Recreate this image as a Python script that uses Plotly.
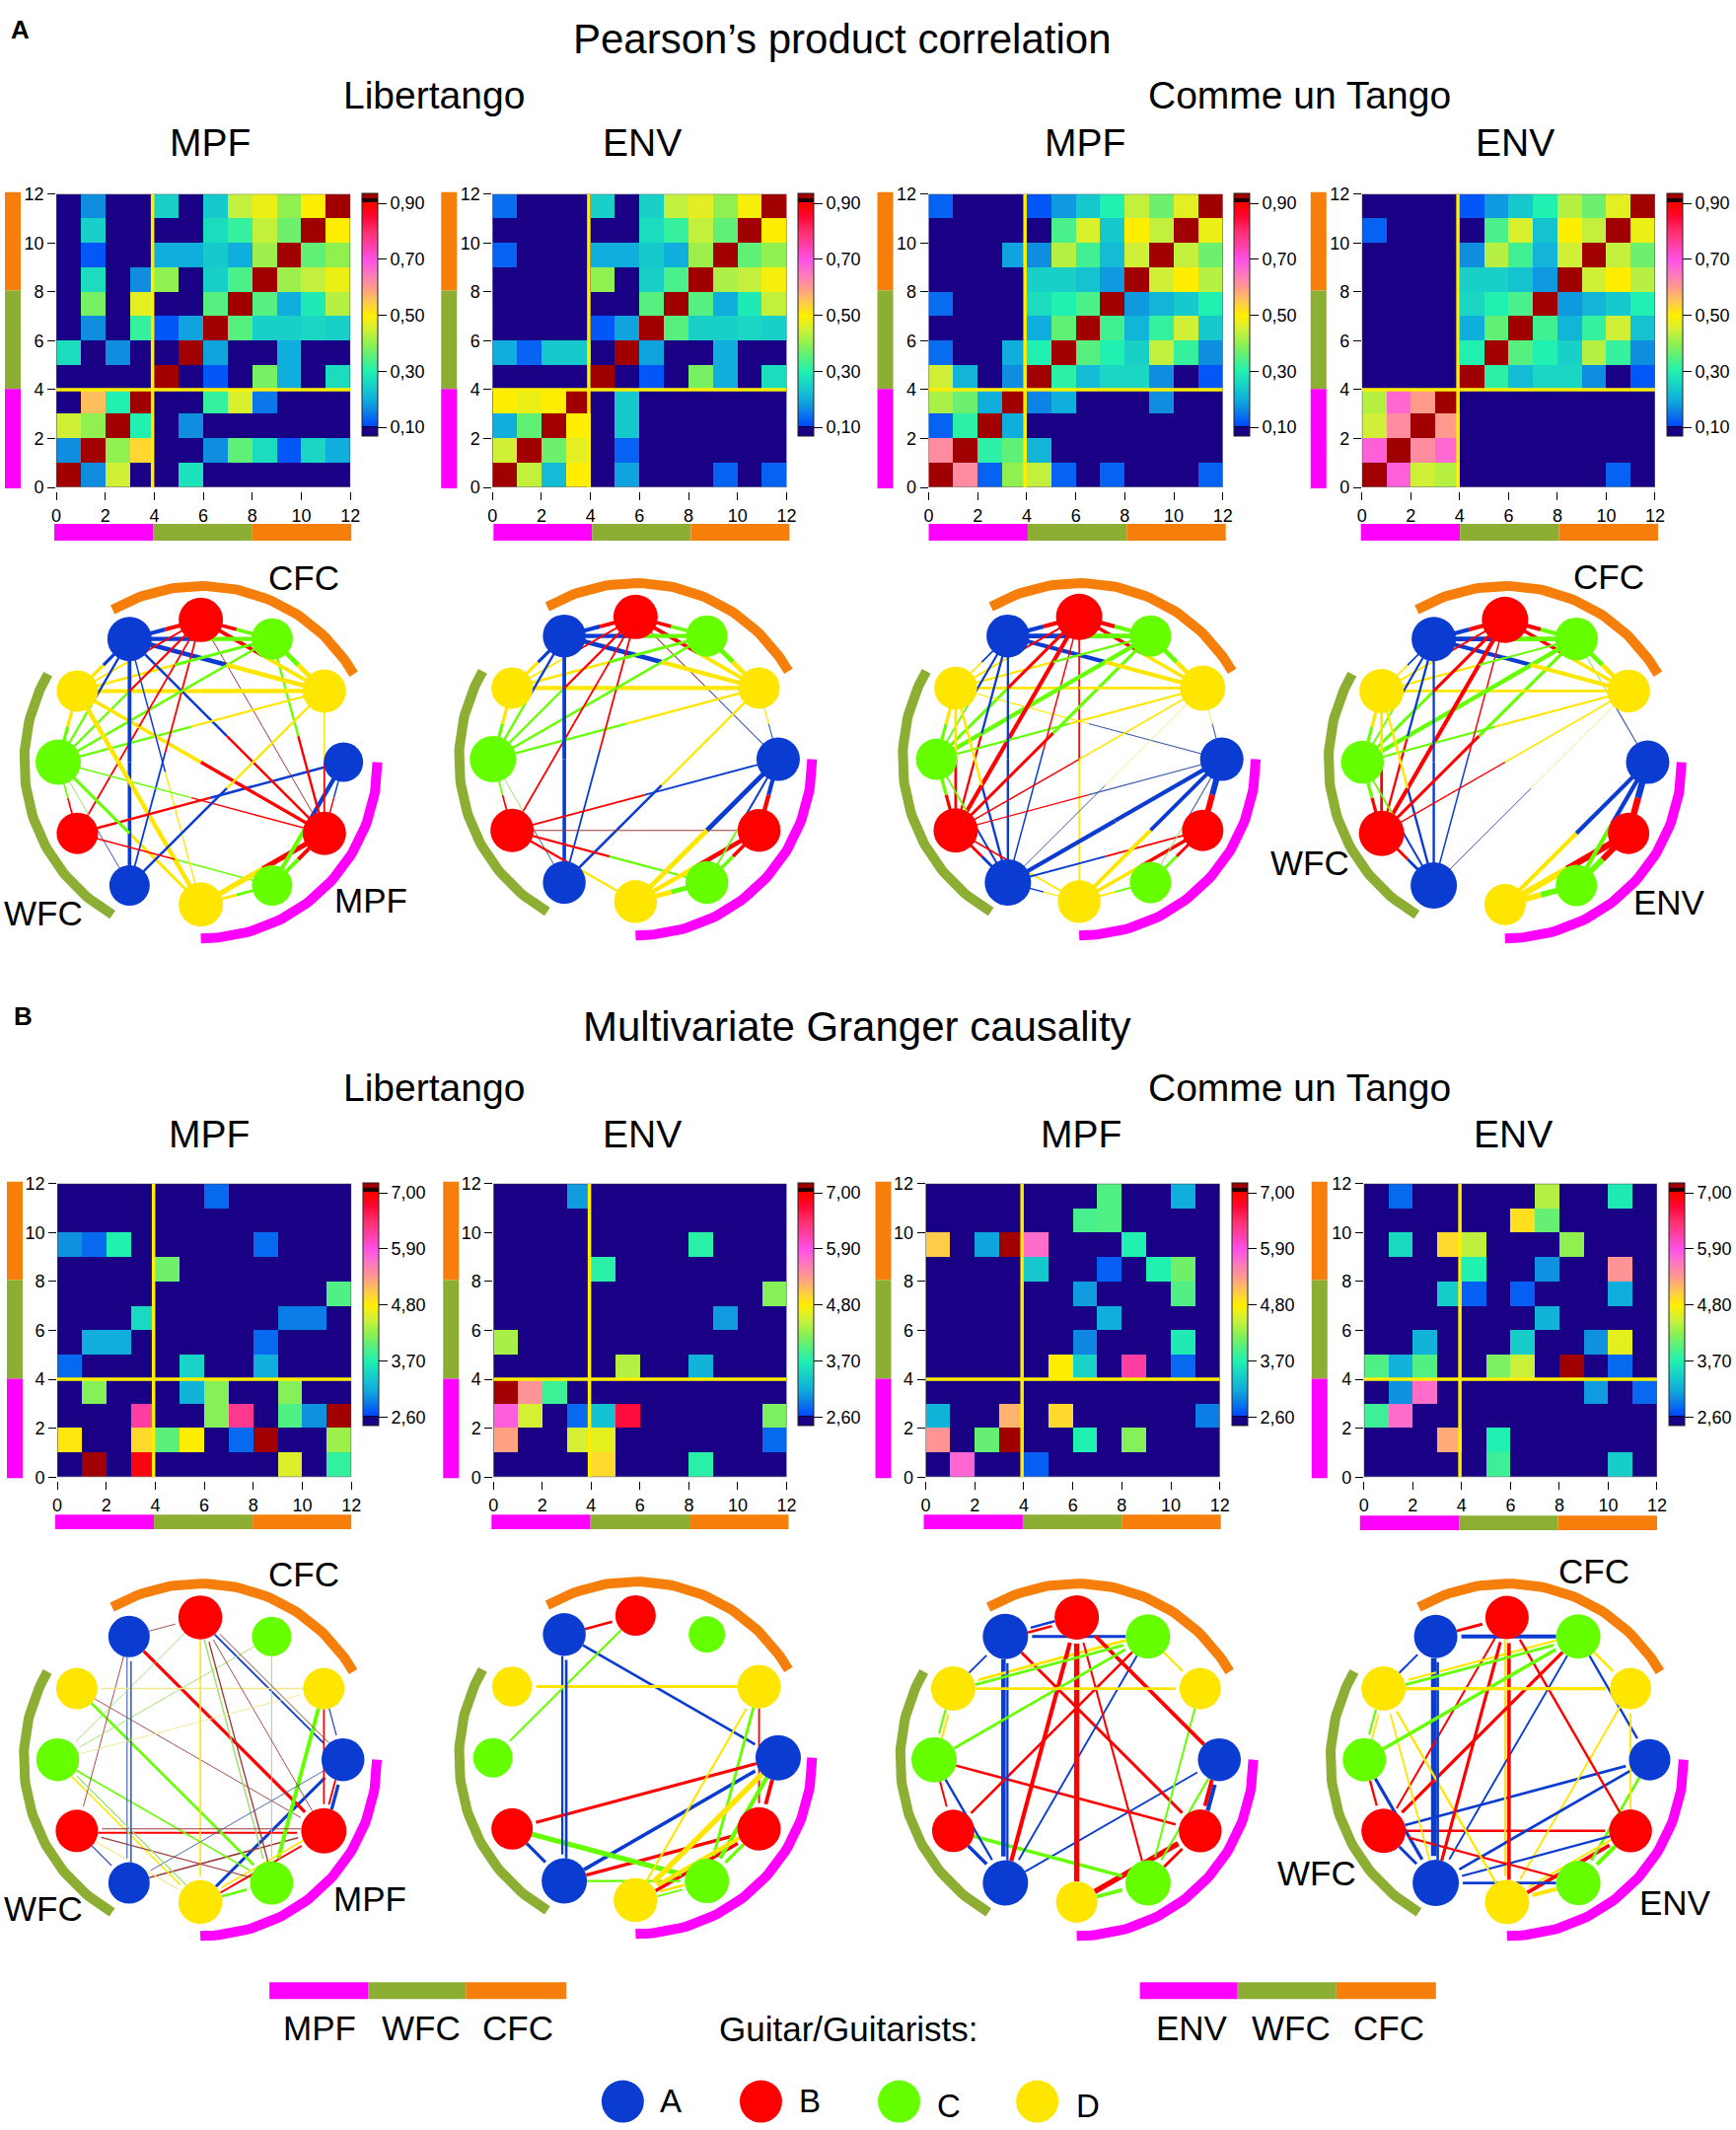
import numpy as np
import plotly.graph_objects as go

W, H = 1760, 2159
FRAME = 8
XSHIFT = 3
FONT = "Liberation Sans"

# ---------- matrices, rows listed from y=11 (top) down to y=0 ----------
PCC_LIB_MPF = [
 [0,.17,0,0,.25,0,.24,.44,.48,.40,.50,1],
 [0,.25,0,0,0,0,.27,.32,.44,.37,1,.50],
 [0,.12,0,0,.20,.20,.24,.20,.41,1,.36,.40],
 [0,.27,0,.17,.40,0,.25,.34,1,.41,.44,.48],
 [0,.38,0,.47,0,0,.35,1,.35,.20,.29,.43],
 [0,.17,0,.32,.12,.19,1,.35,.25,.25,.26,.25],
 [.27,0,.17,0,0,1,.19,0,0,.20,0,0],
 [0,0,0,0,1,0,.12,0,.38,.20,0,.27],
 [0,.56,.30,1,0,0,.32,.46,.15,0,0,0],
 [.45,.40,1,.30,0,.17,0,0,0,0,0,0],
 [.17,1,.40,.53,0,0,.17,.36,.27,.12,.26,.20],
 [1,.17,.45,0,0,.28,0,0,0,0,0,0]]
PCC_LIB_ENV = [
 [.14,0,0,0,.25,0,.25,.44,.47,.40,.49,1],
 [0,0,0,0,0,0,.27,.32,.44,.36,1,.50],
 [.13,0,0,0,.20,.20,.24,.20,.41,1,.36,.40],
 [0,0,0,0,.40,0,.25,.34,1,.42,.44,.49],
 [0,0,0,0,0,0,.35,1,.35,.20,.29,.44],
 [0,0,0,0,.12,.19,1,.35,.25,.25,.26,.25],
 [.20,.13,.24,.24,0,1,.19,0,0,.20,0,0],
 [0,0,0,0,1,0,.12,0,.38,.20,0,.27],
 [.50,.48,.50,1,0,.24,0,0,0,0,0,0],
 [.20,.36,1,.50,0,.24,0,0,0,0,0,0],
 [.45,1,.37,.47,0,.13,0,0,0,0,0,0],
 [1,.44,.22,.50,0,.19,0,0,0,.13,0,.13]]
PCC_TAN_MPF = [
 [.13,0,0,0,.12,.18,.24,.30,.44,.37,.47,1],
 [0,0,0,0,0,.34,.46,.24,.50,.44,1,.48],
 [0,0,0,.19,.17,.43,.33,.22,.45,1,.44,.37],
 [0,0,0,0,.25,.25,.23,.18,1,.45,.50,.43],
 [.14,0,0,0,.27,.30,.34,1,.18,.21,.24,.30],
 [0,0,0,0,.20,.36,1,.33,.21,.32,.45,.24],
 [.14,0,0,.20,.30,1,.35,.30,.25,.44,.32,.17],
 [.45,.21,0,.17,1,.31,.22,.26,.26,.17,0,.12],
 [.42,.37,.20,1,.16,.20,0,0,0,.17,0,0],
 [.13,.31,1,.20,0,0,0,0,0,0,0,0],
 [.62,1,.31,.36,.21,0,0,0,0,0,0,0],
 [1,.62,.13,.40,.44,.13,0,.13,0,0,0,.13]]
PCC_TAN_ENV = [
 [0,0,0,0,.12,.18,.24,.30,.43,.37,.47,1],
 [.13,0,0,0,0,.34,.46,.23,.50,.44,1,.48],
 [0,0,0,0,.17,.43,.33,.21,.45,1,.44,.37],
 [0,0,0,0,.25,.25,.23,.18,1,.45,.50,.43],
 [0,0,0,0,.26,.30,.34,1,.18,.21,.24,.30],
 [0,0,0,0,.20,.36,1,.33,.21,.32,.45,.23],
 [0,0,0,0,.30,1,.35,.30,.25,.43,.32,.17],
 [0,0,0,0,1,.31,.22,.26,.26,.17,0,.12],
 [.43,.67,.60,1,0,0,0,0,0,0,0,0],
 [.45,.62,1,.60,0,0,0,0,0,0,0,0],
 [.68,1,.62,.67,0,0,0,0,0,0,0,0],
 [1,.68,.45,.43,0,0,0,0,0,0,.13,0]]
GC_LIB_MPF = [
 [0,0,0,0,0,0,2.8,0,0,0,0,0],
 [0,0,0,0,0,0,0,0,0,0,0,0],
 [3.0,2.8,3.7,0,0,0,0,0,2.8,0,0,0],
 [0,0,0,0,4.1,0,0,0,0,0,0,0],
 [0,0,0,0,0,0,0,0,0,0,0,3.95],
 [0,0,0,3.5,0,0,0,0,0,2.9,2.9,0],
 [0,3.15,3.15,0,0,0,0,0,2.8,0,0,0],
 [2.8,0,0,0,0,3.45,0,0,3.15,0,0,0],
 [0,4.2,0,0,0,3.2,4.2,0,0,4.2,0,0],
 [0,0,0,6.2,0,0,4.2,6.3,0,3.95,3.0,9.0],
 [4.85,0,0,4.95,4.0,4.8,0,2.8,7.5,0,0,4.3],
 [0,7.5,0,6.9,0,0,0,0,0,4.6,0,3.8]]
GC_LIB_ENV = [
 [0,0,0,3.05,0,0,0,0,0,0,0,0],
 [0,0,0,0,0,0,0,0,0,0,0,0],
 [0,0,0,0,0,0,0,0,3.75,0,0,0],
 [0,0,0,0,3.75,0,0,0,0,0,0,0],
 [0,0,0,0,0,0,0,0,0,0,0,4.2],
 [0,0,0,0,0,0,0,0,0,3.05,0,0],
 [4.35,0,0,0,0,0,0,0,0,0,0,0],
 [0,0,0,0,0,4.4,0,0,3.2,0,0,0],
 [7.3,5.4,3.85,0,0,0,0,0,0,0,0,0],
 [5.8,4.55,0,2.8,3.3,6.7,0,0,0,0,0,4.15],
 [5.3,0,0,4.55,4.65,0,0,0,0,0,0,2.8],
 [0,0,0,0,4.95,0,0,0,3.75,0,0,0]]
GC_TAN_MPF = [
 [0,0,0,0,0,0,0,3.95,0,0,3.15,0],
 [0,0,0,0,0,0,3.9,3.95,0,0,0,0],
 [5.05,0,3.1,7.3,5.7,0,0,0,3.7,0,0,0],
 [0,0,0,0,3.35,0,0,2.75,0,3.7,4.1,0],
 [0,0,0,0,0,0,3.05,0,0,0,3.95,0],
 [0,0,0,0,0,0,0,3.15,0,0,0,0],
 [0,0,0,0,0,0,2.95,0,0,0,3.65,0],
 [0,0,0,0,0,4.8,3.45,0,6.2,0,2.8,0],
 [0,0,0,0,0,0,0,0,0,0,0,0],
 [3.2,0,0,5.2,0,4.95,0,0,0,0,0,2.9],
 [5.4,0,4.05,7.3,0,0,3.7,0,4.2,0,0,0],
 [0,5.75,0,0,2.75,0,0,0,0,0,0,0]]
GC_TAN_ENV = [
 [0,2.8,0,0,0,0,0,4.4,0,0,3.65,0],
 [0,0,0,0,0,0,4.9,4.05,0,0,0,0],
 [0,3.5,0,4.95,4.45,0,0,0,4.25,0,0,0],
 [0,0,0,0,3.7,0,0,3.0,0,0,5.4,0],
 [0,0,0,3.4,2.75,0,2.75,0,0,0,3.15,0],
 [0,0,0,0,0,0,0,3.2,0,0,0,0],
 [0,0,3.2,0,0,0,3.4,0,0,3.0,4.65,0],
 [3.95,3.2,3.95,0,0,4.15,4.5,0,7.5,0,2.8,0],
 [0,3.0,5.7,0,0,0,0,0,0,3.05,0,2.8],
 [3.85,5.7,0,0,0,0,0,0,0,0,0,0],
 [0,0,0,5.25,0,3.7,0,0,0,0,0,0],
 [0,0,0,0,0,3.85,0,0,0,0,3.4,0]]

# node diameters read per panel, node index 0..11
NODES_PCC_LIB_MPF = [40,44,41,45,41,42,46,42,45,45,42,44]
NODES_PCC_LIB_ENV = [44,43.5,43.5,43.5,43.5,44,47,42,43.5,45,42,42]
NODES_PCC_TAN_MPF = [44,42,42,43.5,47,45,42,43.5,43.5,47,42,46]
NODES_PCC_TAN_ENV = [44,42,42,42,47,46,43.5,45,45,47,43.5,43.5]
NODES_GC_LIB_MPF = [43.5,46,44,44.6,42,43,43.5,42,42,44.6,40,42]
NODES_GC_LIB_ENV = [46,44,45,44.6,46,42,40,40.6,43.5,41,37,44]
NODES_GC_TAN_MPF = [43.5,43.5,46,42,46,43,46,45,46,45,45,42]
NODES_GC_TAN_ENV = [42,43.5,45,45,47,45,44,45,44,44,45,42]

AXIS_TICKS = [0, 2, 4, 6, 8, 10, 12]
PCC_TICKS = [.1, .3, .5, .7, .9]
PCC_LABELS = ["0,10", "0,30", "0,50", "0,70", "0,90"]
GC_TICKS = [2.6, 3.7, 4.8, 5.9, 7.0]
GC_LABELS = ["2,60", "3,70", "4,80", "5,90", "7,00"]
GROUPS = ["A", "B", "C", "D"]

BLUE, RED, GREEN, YEL = "#0a3cd2", "#ff0000", "#66ff00", "#ffe600"
GUITAR = [BLUE, RED, GREEN, YEL]
THIN = {BLUE: "#3a5aa8", RED: "#9c3a3a", GREEN: "#9ce070", YEL: "#f0e68c"}
MAG, OLIVE, ORANGE = "#ff00ff", "#8cae32", "#f57f0a"

# colour map, stops expressed on the correlation scale
P0, P1 = .07, .937
stops = [(.07,"#190084"),(.10,"#190084"),(.10,"#000030"),(.106,"#000030"),(.106,"#0048ff"),
         (.17,"#0f8ee0"),(.20,"#10aedc"),(.25,"#18d0c8"),(.30,"#20f0b0"),(.35,"#55f080"),
         (.40,"#90f050"),(.45,"#d0f038"),(.50,"#ffee00"),(.55,"#ffc850"),(.60,"#ff9a8c"),
         (.65,"#ff78c0"),(.70,"#ff50e8"),(.75,"#ff40a8"),(.80,"#ff3070"),(.85,"#ff0838"),
         (.895,"#ff0000"),(.904,"#ff0000"),(.904,"#200000"),(.918,"#200000"),(.918,"#a00000"),(.937,"#a00000")]
CS = [[(p - P0) / (P1 - P0), c] for p, c in stops]

def px(x): return (x + XSHIFT - FRAME) / (W - 2 * FRAME)
def py(y): return 1 - (y - FRAME) / (H - 2 * FRAME)

fig = go.Figure()
shapes, annos = [], []

def text(s, x, y, size=35, bold=False):
    annos.append(dict(text=f"<b>{s}</b>" if bold else s, x=px(x), y=py(y), xref="paper", yref="paper",
                      xanchor="center", yanchor="middle", showarrow=False,
                      font=dict(family=FONT, size=size, color="black")))

def rect(x0, x1, y0, y1, c):
    shapes.append(dict(type="rect", xref="paper", yref="paper", x0=px(x0), x1=px(x1), y0=py(y1), y1=py(y0),
                       fillcolor=c, line=dict(width=0), layer="below"))

def heat(k, m, kind, left, right, top, bot, cbx, cbt, lbx, by0, by1, bbx0, bbx1):
    z = np.array(m, float)[::-1]
    gc = kind == "gc"
    zmin, zmax = (2.435, 7.2) if gc else (P0, P1)
    xa, ya = f"x{k}", f"y{k}"
    tf = dict(family=FONT, size=18, color="black")
    fig.add_trace(go.Heatmap(
        z=z, x=np.arange(12) + .5, y=np.arange(12) + .5, xaxis=xa, yaxis=ya,
        colorscale=CS, zmin=zmin, zmax=zmax, hoverinfo="skip",
        colorbar=dict(x=px(cbx), xanchor="left", xpad=0, y=py(cbt), yanchor="top", ypad=0,
                      len=246, lenmode="pixels", thickness=16, thicknessmode="pixels",
                      outlinewidth=1, outlinecolor="#222", borderwidth=0,
                      ticks="outside", ticklen=9, tickwidth=1, tickcolor="black",
                      tickvals=GC_TICKS if gc else PCC_TICKS, ticktext=GC_LABELS if gc else PCC_LABELS,
                      tickfont=tf)))
    fig.layout[f"xaxis{k}"] = dict(domain=[px(left), px(right)], range=[0, 12], anchor="free",
                                   position=py(bot + 4), tickvals=AXIS_TICKS, ticks="outside", ticklen=8,
                                   tickwidth=1, tickcolor="black", showgrid=False, zeroline=False, showline=False,
                                   tickfont=tf)
    fig.layout[f"yaxis{k}"] = dict(domain=[py(bot), py(top)], range=[0, 12], anchor=xa,
                                   tickvals=AXIS_TICKS, ticks="outside", ticklen=8,
                                   tickwidth=1, tickcolor="black", showgrid=False, zeroline=False, showline=False,
                                   tickfont=tf)
    shapes.append(dict(type="rect", xref=xa, yref=ya, x0=0, x1=12, y0=0, y1=12, line=dict(color="#444", width=1)))
    shapes.append(dict(type="line", xref=xa, yref=ya, x0=3.93, x1=3.93, y0=0, y1=12, line=dict(color="#ffee00", width=3.5)))
    shapes.append(dict(type="line", xref=xa, yref=ya, x0=0, x1=12, y0=4, y1=4, line=dict(color="#ffee00", width=3.5)))
    seg = (bot - top + 2) / 3
    t0 = bot - 3 * seg
    rect(lbx, lbx + 16, t0, t0 + seg, ORANGE)
    rect(lbx, lbx + 16, t0 + seg, t0 + 2 * seg, OLIVE)
    rect(lbx, lbx + 16, t0 + 2 * seg, bot + 1, MAG)
    sw = (bbx1 - bbx0) / 3
    rect(bbx0, bbx0 + sw, by0, by1, MAG)
    rect(bbx0 + sw, bbx0 + 2 * sw, by0, by1, OLIVE)
    rect(bbx0 + 2 * sw, bbx1, by0, by1, ORANGE)

def node_xy(i):
    a = np.deg2rad(-30.0 * i)
    return np.cos(a), np.sin(a)

R = 144.5

def line(k, xs, ys, c, w):
    fig.add_trace(go.Scatter(x=xs, y=ys, mode="lines", line=dict(color=c, width=w), hoverinfo="skip",
                             showlegend=False, xaxis=f"x{k}", yaxis=f"y{k}"))

def edge_colour(c, w, limit):
    return THIN[c] if w < limit else c

def network(k, m, kind, cx, cy, sizes, base=1.7, gain=.8, thin_limit=1.2):
    M = np.array(m, float)[::-1]
    h = 1.3
    fig.layout[f"xaxis{k}"] = dict(domain=[px(cx - h * R), px(cx + h * R)], range=[-h, h], visible=False, anchor=f"y{k}")
    fig.layout[f"yaxis{k}"] = dict(domain=[py(cy + h * R), py(cy - h * R)], range=[-h, h], visible=False, anchor=f"x{k}")
    # group arcs
    for a0, a1, c in [(0, -90, MAG), (-120, -210, OLIVE), (120, 30, ORANGE)]:
        t = np.deg2rad(np.linspace(a0, a1, 60))
        line(k, 1.238 * np.cos(t), 1.238 * np.sin(t), c, 10)
    if kind == "pcc":
        for i in range(12):
            for j in range(12):
                if i != j and M[i, j] > 0:
                    xi, yi = node_xy(i); xj, yj = node_xy(j)
                    w = .8 + (M[i, j] - .1) * 10
                    line(k, [xi, (xi + xj) / 2], [yi, (yi + yj) / 2], edge_colour(GUITAR[i % 4], w, thin_limit), w)
    else:
        for i in range(12):
            for j in range(12):
                if i != j and M[i, j] > 0:
                    xi, yi = node_xy(i); xj, yj = node_xy(j)
                    dx, dy = xj - xi, yj - yi
                    L = np.hypot(dx, dy); ux, uy = dx / L, dy / L
                    off = 2.0 / R if M[j, i] > 0 else 0
                    # offset to the left of travel, so opposite directions separate
                    ox, oy = -uy * off, ux * off
                    s = (sizes[i] / 2 + 4) / R
                    e = (sizes[j] / 2) / R
                    w = base + (M[i, j] - 2.6) * gain
                    line(k, [xi + ux * s + ox, xj - ux * e + ox], [yi + uy * s + oy, yj - uy * e + oy],
                         edge_colour(GUITAR[i % 4], w, thin_limit), w)
    nx, ny = zip(*[node_xy(i) for i in range(12)])
    fig.add_trace(go.Scatter(x=nx, y=ny, mode="markers", hoverinfo="skip", showlegend=False,
                             marker=dict(size=sizes, opacity=1, color=[GUITAR[i % 4] for i in range(12)], line=dict(width=0)),
                             xaxis=f"x{k}", yaxis=f"y{k}"))

# matrices
heat(1, PCC_LIB_MPF, "pcc", 57, 355, 195, 493, 367, 194, 5, 530, 547, 55, 356)
heat(2, PCC_LIB_ENV, "pcc", 499, 797, 195, 493, 809, 194, 447, 530, 547, 500, 800)
heat(3, PCC_TAN_MPF, "pcc", 941, 1239, 195, 493, 1250, 194, 889, 530, 547, 941, 1242)
heat(4, PCC_TAN_ENV, "pcc", 1380, 1677, 195, 493, 1689, 194, 1328, 530, 547, 1379, 1680)
heat(5, GC_LIB_MPF, "gc", 58, 356, 1200, 1498, 368, 1199, 7, 1536, 1551, 56, 356)
heat(6, GC_LIB_ENV, "gc", 500, 797, 1200, 1498, 809, 1199, 449, 1536, 1551, 498, 799)
heat(7, GC_TAN_MPF, "gc", 938, 1236, 1200, 1498, 1248, 1199, 887, 1536, 1551, 936, 1237)
heat(8, GC_TAN_ENV, "gc", 1382, 1679, 1200, 1498, 1691, 1199, 1329, 1537, 1552, 1378, 1679)

# networks
network(9, PCC_LIB_MPF, "pcc", 203.5, 772, NODES_PCC_LIB_MPF)
network(10, PCC_LIB_ENV, "pcc", 644, 769, NODES_PCC_LIB_ENV)
network(11, PCC_TAN_MPF, "pcc", 1093.5, 769, NODES_PCC_TAN_MPF)
network(12, PCC_TAN_ENV, "pcc", 1525, 772, NODES_PCC_TAN_ENV)
network(13, GC_LIB_MPF, "gc", 203, 1785, NODES_GC_LIB_MPF, base=.8, gain=.5, thin_limit=1.6)
network(14, GC_LIB_ENV, "gc", 644, 1783, NODES_GC_LIB_ENV)
network(15, GC_TAN_MPF, "gc", 1091, 1785, NODES_GC_TAN_MPF)
network(16, GC_TAN_ENV, "gc", 1527, 1785, NODES_GC_TAN_ENV)

# guitar legend
fig.add_trace(go.Scatter(x=[0, 1, 2, 3], y=[0, 0, 0, 0], mode="markers", hoverinfo="skip", showlegend=False,
                         marker=dict(size=43, opacity=1, color=GUITAR, line=dict(width=0)), cliponaxis=False,
                         xaxis="x17", yaxis="y17"))
fig.layout["xaxis17"] = dict(domain=[px(561), px(1121)], range=[-.5, 3.5], visible=False, anchor="y17")
fig.layout["yaxis17"] = dict(domain=[py(2151), py(2113)], range=[-1, 1], visible=False, anchor="x17")

for x0, x1, x2, x3 in [(273, 373, 472, 574), (1155, 1254, 1354, 1455)]:
    rect(x0, x1, 2011, 2028, MAG); rect(x1, x2, 2011, 2028, OLIVE); rect(x2, x3, 2011, 2028, ORANGE)

# texts
text("A", 20, 28, 26, True)
text("B", 23, 1030, 26, True)
text("Pearson’s product correlation", 854, 38, 42)
text("Multivariate Granger causality", 869, 1040, 42)
for y in (95, 1103):
    text("Libertango", 440, y, 39)
    text("Comme un Tango", 1317, y, 39)
for s, x, y in [("MPF", 213, 143), ("ENV", 651, 143), ("MPF", 1099, 143), ("ENV", 1535, 143),
                ("MPF", 212, 1150), ("ENV", 651, 1150), ("MPF", 1095, 1150), ("ENV", 1533, 1150)]:
    text(s, x, y, 39)
for s, x, y in [("CFC", 308, 585), ("MPF", 376, 912), ("WFC", 44, 925), ("CFC", 1630, 584), ("WFC", 1327, 874),
                ("ENV", 1692, 914), ("CFC", 308, 1596), ("MPF", 375, 1926), ("WFC", 44, 1936), ("CFC", 1615, 1593),
                ("WFC", 1334, 1900), ("ENV", 1698, 1930), ("MPF", 324, 2057), ("WFC", 427, 2057), ("CFC", 525, 2057),
                ("ENV", 1208, 2057), ("WFC", 1308, 2057), ("CFC", 1407, 2057), ("Guitar/Guitarists:", 860, 2058)]:
    text(s, x, y, 35)
for s, x, y in zip(GROUPS, [680, 821, 961, 1102], [2131, 2131, 2136, 2136]):
    text(s, x, y, 33)

fig.update_layout(width=W, height=H, margin=dict(l=0, r=0, t=0, b=0), paper_bgcolor="white",
                  plot_bgcolor="rgba(0,0,0,0)", showlegend=False, shapes=shapes, annotations=annos,
                  font=dict(family=FONT))
fig.write_html("out.html", config={"displayModeBar": False},
               post_script="document.body.style.margin='0';")
